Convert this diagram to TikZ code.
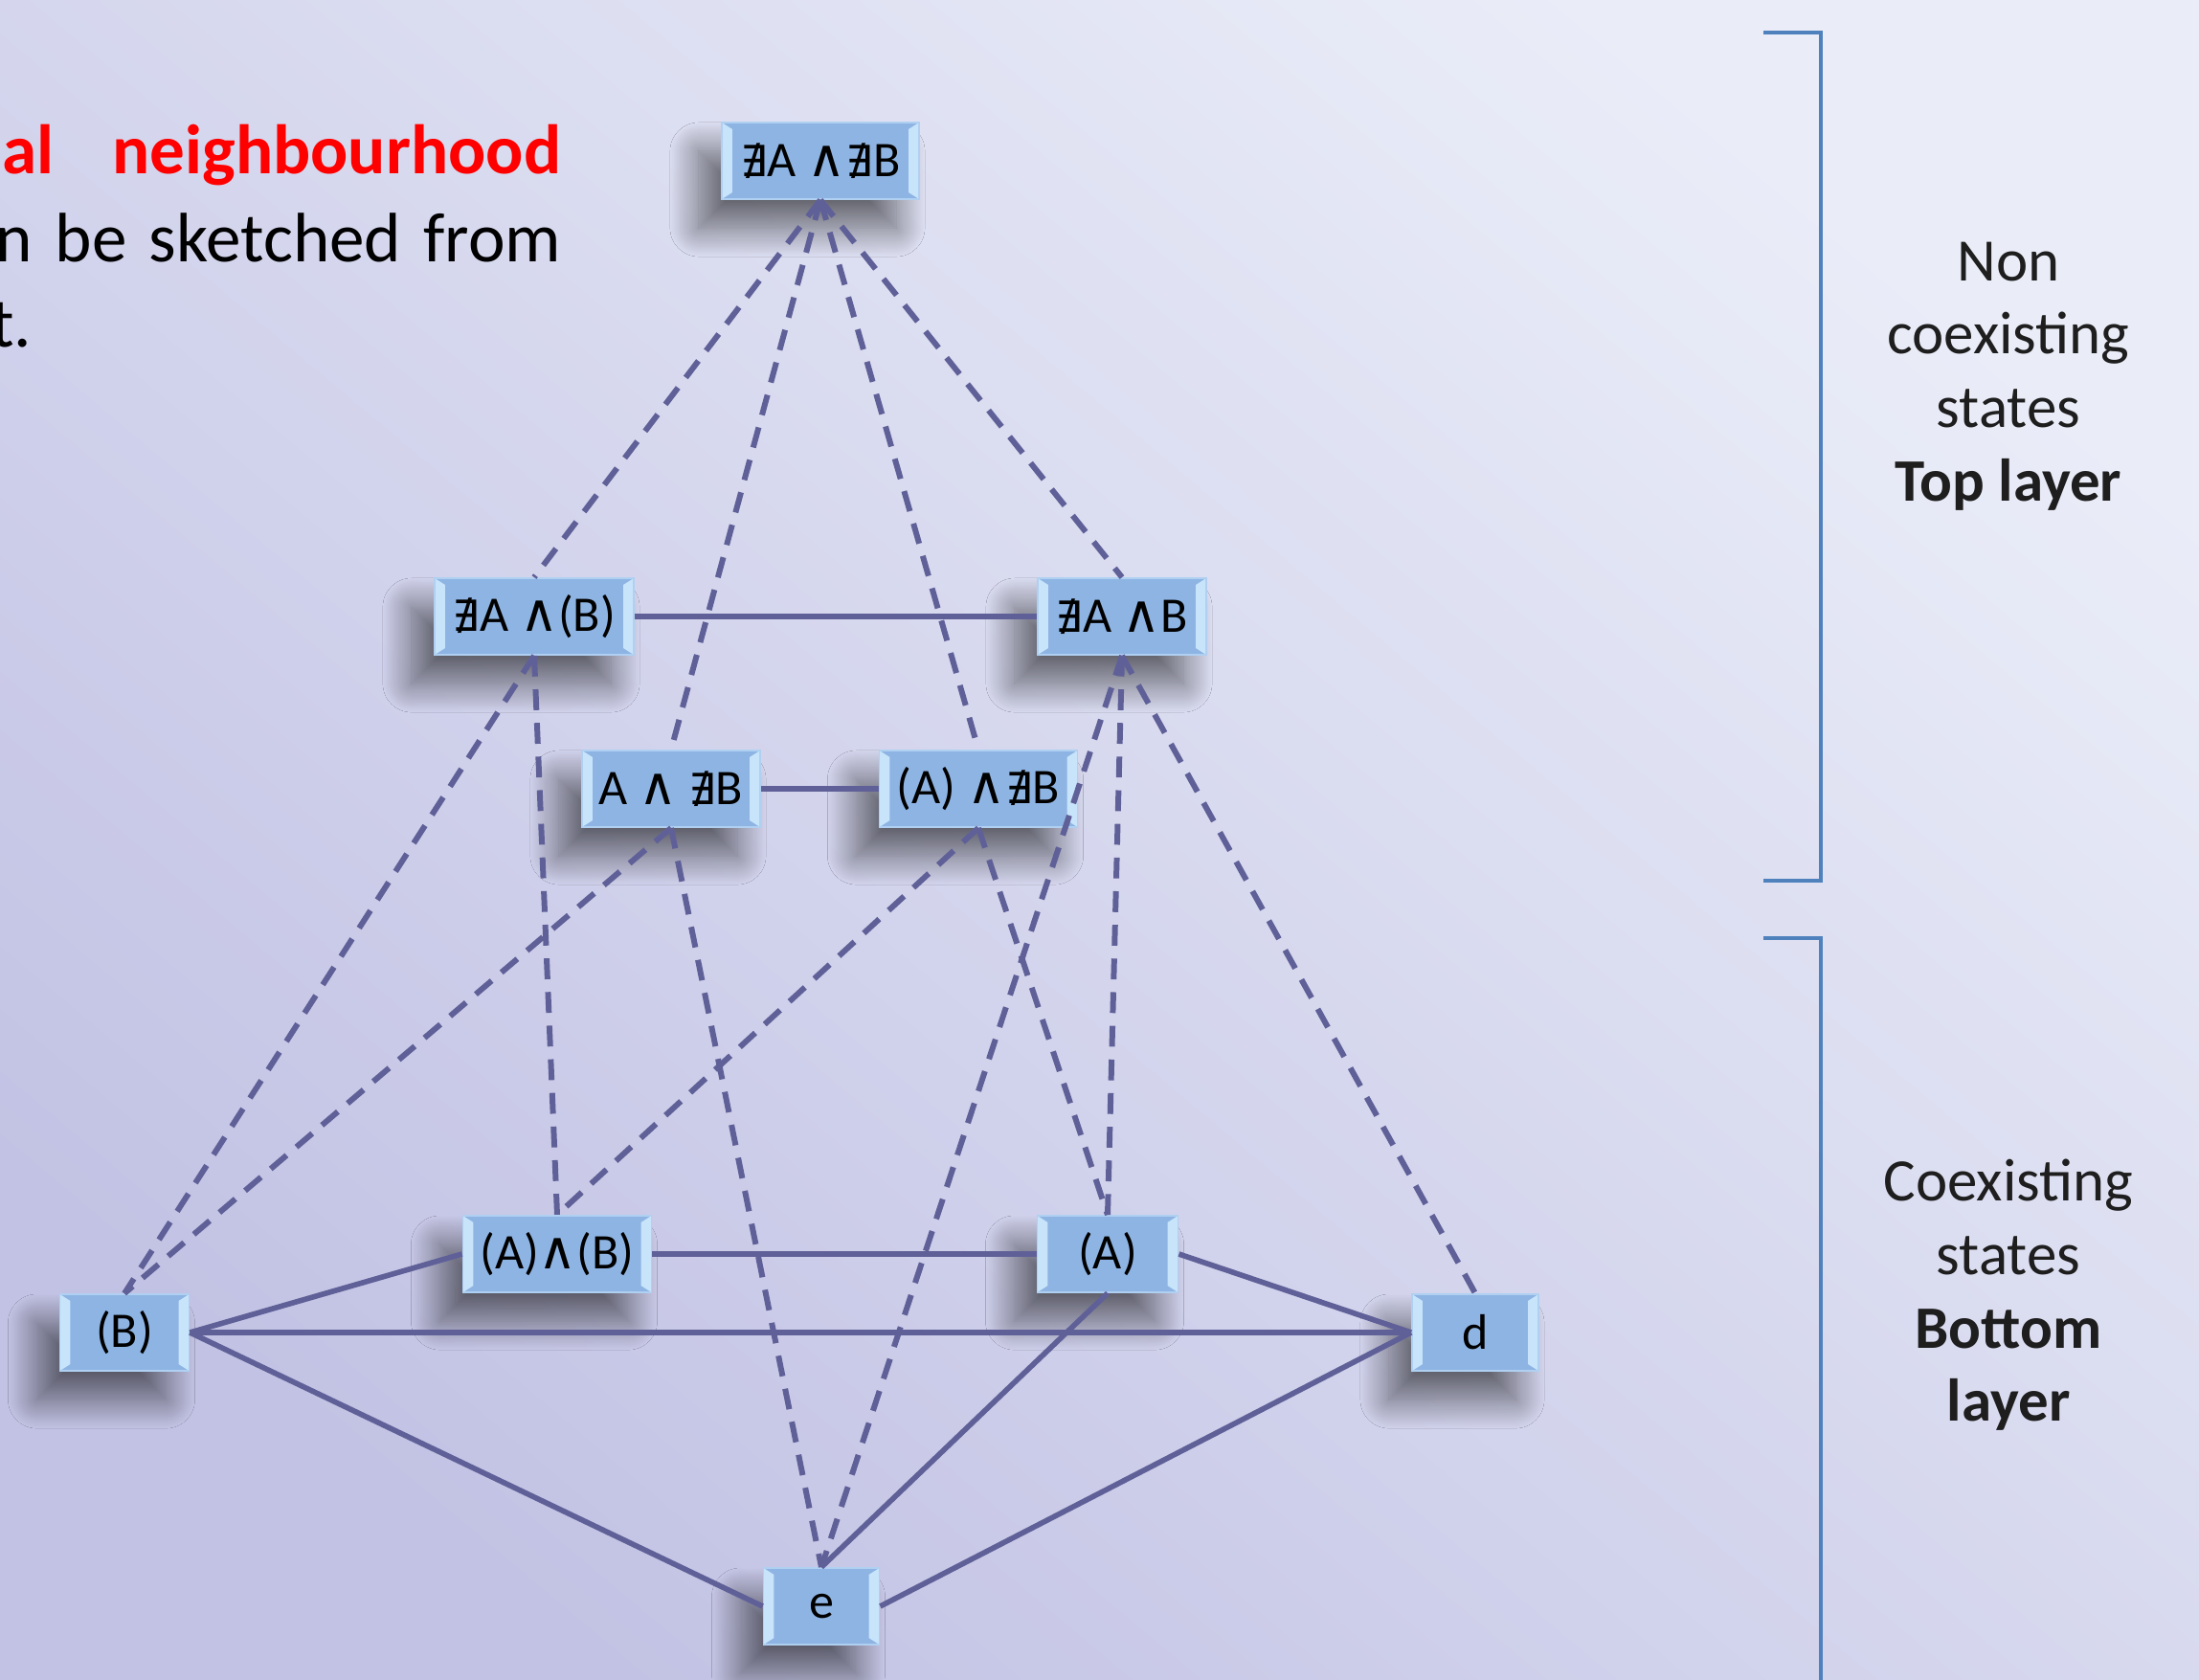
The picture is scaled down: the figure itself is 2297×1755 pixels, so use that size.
\documentclass[tikz,border=0pt]{standalone}
\usepackage{fontspec}
\setmainfont{Carlito}
\newfontfamily\symfont{DejaVu Sans}[Scale=0.86]
\newfontfamily\wedgefont{DejaVu Sans}[Scale=1.05]
\usetikzlibrary{shadows.blur}
\definecolor{bgA}{RGB}{194,194,228}
\definecolor{bgB}{RGB}{234,237,248}
\definecolor{boxfill}{RGB}{142,180,227}
\definecolor{boxedge}{RGB}{176,208,242}
\definecolor{bevelc}{RGB}{200,228,250}
\definecolor{edgec}{RGB}{96,96,152}
\definecolor{brk}{RGB}{79,129,189}
\definecolor{redt}{RGB}{255,0,0}
\definecolor{labelc}{RGB}{30,30,30}
\newcommand{\myNex}{{\symfont ∄}}
\newcommand{\myWedge}{{\wedgefont ∧}}
\tikzset{
  statebox/.style={rectangle, fill=boxfill, draw=boxedge, line width=0.5pt,
    minimum height=0.8cm, inner sep=0pt, text=black,
    font=\fontsize{14.8}{17}\selectfont,
    blur shadow={shadow xshift=-0.24cm, shadow yshift=-0.3cm,
      shadow blur radius=0.3cm, shadow blur steps=30, shadow opacity=55},
    path picture={
      \fill[bevelc] (path picture bounding box.north west) -- ++(0.11cm,-0.07cm)
        -- ([shift={(0.11cm,0.07cm)}]path picture bounding box.south west)
        -- (path picture bounding box.south west) -- cycle;
      \fill[bevelc] (path picture bounding box.north east) -- ++(-0.11cm,-0.07cm)
        -- ([shift={(-0.11cm,0.07cm)}]path picture bounding box.south east)
        -- (path picture bounding box.south east) -- cycle;
    }},
  solidedge/.style={draw=edgec, line width=1.6pt},
  dashedge/.style={draw=edgec, line width=1.7pt, dash pattern=on 6.2pt off 3.8pt},
  bracketline/.style={draw=brk, line width=0.9pt},
  sidelabel/.style={align=center, text=labelc,
    font=\fontsize{17.9}{21.8}\selectfont},
  bodytext/.style={inner sep=0pt, font=\fontsize{20.8}{25}\selectfont}
}
\begin{document}
\begin{tikzpicture}[x=0.01cm, y=-0.01cm]
  \useasboundingbox (0,0) rectangle (2297,1755);
  \clip (0,0) rectangle (2297,1755);
  \shade[bottom color=bgA, top color=bgB, shading angle=-40] (0,0) rectangle (2297,1755);

  % left paragraph fragment
  \node[bodytext, anchor=base west, text=redt, font=\bfseries\fontsize{20.8}{25}\selectfont] (t1a) at (2,182) {al};
  \node[bodytext, anchor=base east, text=redt, font=\bfseries\fontsize{20.8}{25}\selectfont] (t1b) at (587,182) {neighbourhood};
  \node[bodytext, anchor=base east] (t2) at (587,274) {n\hskip0.32em be\hskip0.32em sketched\hskip0.32em from};
  \node[bodytext, anchor=base east] (t3) at (34,363) {t.};

  % states
  \node[statebox, minimum width=2.06cm] (top) at (857,168) {\myNex A \myWedge\myNex B};
  \node[statebox, minimum width=2.08cm] (nb)  at (558,644) {\myNex A \myWedge(B)};
  \node[statebox, minimum width=1.76cm] (nab) at (1172,644) {\myNex A \myWedge B};
  \node[statebox, minimum width=1.86cm] (anb) at (701,824) {A \myWedge\ \myNex B};
  \node[statebox, minimum width=2.07cm] (pnb) at (1022,824) {(A) \myWedge\myNex B};
  \node[statebox, minimum width=1.97cm] (pab) at (582,1310) {(A)\myWedge(B)};
  \node[statebox, minimum width=1.47cm] (pa)  at (1157,1310) {(A)};
  \node[statebox, minimum width=1.35cm] (pb)  at (130,1392) {(B)};
  \node[statebox, minimum width=1.32cm] (d)   at (1541,1392) {d};
  \node[statebox, minimum width=1.21cm] (e)   at (858,1678) {e};

  % dashed connectors
  \draw[dashedge] (top.south) -- (nb.north);
  \draw[dashedge] (top.south) -- (anb.north);
  \draw[dashedge] (top.south) -- (pnb.north);
  \draw[dashedge] (top.south) -- (nab.north);
  \draw[dashedge] (nb.south) -- (pb.north);
  \draw[dashedge] (nb.south) -- (pab.north);
  \draw[dashedge] (anb.south) -- (pb.north);
  \draw[dashedge] (anb.south) -- (e.north);
  \draw[dashedge] (pnb.south) -- (pab.north);
  \draw[dashedge] (pnb.south) -- (pa.north);
  \draw[dashedge] (nab.south) -- (e.north);
  \draw[dashedge] (nab.south) -- (pa.north);
  \draw[dashedge] (nab.south) -- (d.north);

  % solid connectors
  \draw[solidedge] (nb.east) -- (nab.west);
  \draw[solidedge] (anb.east) -- (pnb.west);
  \draw[solidedge] (pab.east) -- (pa.west);
  \draw[solidedge] (pb.east) -- (pab.west);
  \draw[solidedge] (pb.east) -- (d.west);
  \draw[solidedge] (pb.east) -- (e.west);
  \draw[solidedge] (pa.east) -- (d.west);
  \draw[solidedge] (pa.south) -- (e.north);
  \draw[solidedge] (d.west) -- (e.east);

  % brackets
  \coordinate (b1a) at (1842,34);
  \coordinate (b1b) at (1902,34);
  \coordinate (b1c) at (1902,920);
  \coordinate (b1d) at (1842,920);
  \draw[bracketline] (b1a) -- (b1b) -- (b1c) -- (b1d);
  \coordinate (b2a) at (1842,980);
  \coordinate (b2b) at (1902,980);
  \coordinate (b2c) at (1902,1760);
  \draw[bracketline] (b2a) -- (b2b) -- (b2c);

  % side labels
  \node[sidelabel] (toplabel) at (2098,393) {Non\\coexisting\\states\\\textbf{Top layer}};
  \node[sidelabel] (botlabel) at (2098,1353) {Coexisting\\states\\\textbf{Bottom}\\\textbf{layer}};
\end{tikzpicture}
\end{document}
